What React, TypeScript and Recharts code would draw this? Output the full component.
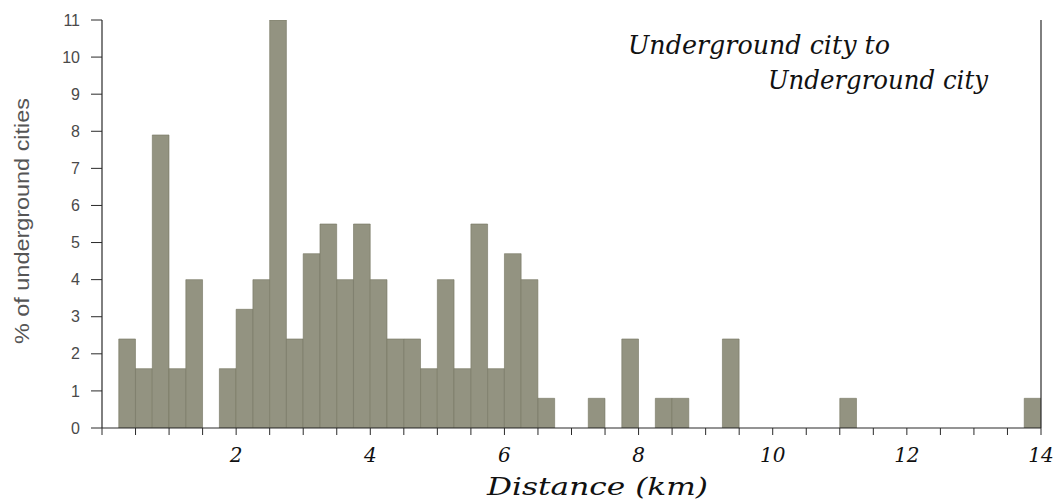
import { Bar, BarChart, ReferenceLine, XAxis, YAxis } from "recharts";

// histogram bins, 0.25 km wide, given by left edge (km)
const binStarts = [
  0.25, 0.5, 0.75, 1.0, 1.25, 1.5, 1.75, 2.0, 2.25, 2.5, 2.75, 3.0, 3.25, 3.5,
  3.75, 4.0, 4.25, 4.5, 4.75, 5.0, 5.25, 5.5, 5.75, 6.0, 6.25, 6.5, 6.75, 7.0,
  7.25, 7.5, 7.75, 8.0, 8.25, 8.5, 8.75, 9.0, 9.25, 9.5, 9.75, 10.0, 10.25,
  10.5, 10.75, 11.0, 11.25, 11.5, 11.75, 12.0, 12.25, 12.5, 12.75, 13.0, 13.25,
  13.5, 13.75,
];
const binWidth = 0.25;

// % of underground cities in each bin
const percent = [
  2.4, 1.6, 7.9, 1.6, 4.0, 0, 1.6, 3.2, 4.0, 11.0, 2.4, 4.7, 5.5, 4.0, 5.5,
  4.0, 2.4, 2.4, 1.6, 4.0, 1.6, 5.5, 1.6, 4.7, 4.0, 0.8, 0, 0, 0.8, 0, 2.4, 0,
  0.8, 0.8, 0, 0, 2.4, 0, 0, 0, 0, 0, 0, 0.8, 0, 0, 0, 0, 0, 0, 0, 0, 0, 0, 0.8,
];

const xTicks = [
  0, 0.5, 1, 1.5, 2, 2.5, 3, 3.5, 4, 4.5, 5, 5.5, 6, 6.5, 7, 7.5, 8, 8.5, 9,
  9.5, 10, 10.5, 11, 11.5, 12, 12.5, 13, 13.5, 14,
];
const xTickLabels = [2, 4, 6, 8, 10, 12, 14];
const yTicks = [0, 1, 2, 3, 4, 5, 6, 7, 8, 9, 10, 11];

const titleLines = ["Underground city to", "Underground city"];
const xTitle = "Distance (km)";
const yTitle = "% of underground cities";

const data = binStarts.map((s, i) => ({ mid: s + binWidth / 2, pct: percent[i] }));

const HAND = "'DejaVu Serif', serif";
const SANS = "'Liberation Sans', Arial, sans-serif";
const AXIS = "#2a2a2a";

function XTitle({ viewBox }: any) {
  const cx = viewBox.x + viewBox.width / 2 + 26;
  return (
    <text
      x={cx}
      y={viewBox.y + viewBox.height - 7}
      textAnchor="middle"
      fontFamily={HAND}
      fontStyle="italic"
      fontSize={25}
      textLength={221}
      lengthAdjust="spacingAndGlyphs"
      fill="#111"
    >
      {xTitle}
    </text>
  );
}

function YTitle({ viewBox }: any) {
  const cx = viewBox.x + 22;
  const cy = viewBox.y + viewBox.height / 2 - 3;
  return (
    <text
      x={cx}
      y={cy}
      transform={`rotate(-90 ${cx} ${cy})`}
      textAnchor="middle"
      dominantBaseline="central"
      fontFamily={SANS}
      fontSize={20}
      textLength={246}
      lengthAdjust="spacingAndGlyphs"
      fill="#555"
    >
      {yTitle}
    </text>
  );
}

export default function App() {
  return (
    <div style={{ position: "absolute", left: 0, top: 0, width: 1054, height: 502, background: "#fff" }}>
      <BarChart
        width={1054}
        height={502}
        data={data}
        margin={{ top: 20, right: 13, bottom: 0, left: 0 }}
        barGap={0}
        barCategoryGap={0}
      >
        <XAxis
          type="number"
          dataKey="mid"
          domain={[0, 14]}
          ticks={xTicks}
          interval={0}
          allowDataOverflow
          height={74}
          tickSize={7}
          tickMargin={13}
          axisLine={{ stroke: AXIS, strokeWidth: 1.2 }}
          tickLine={{ stroke: AXIS }}
          tickFormatter={(v: number) => (xTickLabels.includes(v) ? String(v) : "")}
          tick={{ fill: "#111", fontSize: 20, fontFamily: HAND, fontStyle: "italic" }}
          label={<XTitle />}
        />
        <YAxis
          type="number"
          domain={[0, 11]}
          ticks={yTicks}
          interval={0}
          allowDataOverflow
          width={102}
          tickSize={11}
          tickMargin={11}
          axisLine={{ stroke: AXIS, strokeWidth: 1.2 }}
          tickLine={{ stroke: AXIS }}
          tick={{ fill: "#4a4a4a", fontSize: 16, fontFamily: SANS }}
          label={<YTitle />}
        />
        <ReferenceLine x={14} stroke={AXIS} strokeWidth={1.2} />
        <Bar
          dataKey="pct"
          fill="#939381"
          stroke="#73735f"
          strokeWidth={0.6}
          barSize={16.7}
          isAnimationActive={false}
        />
      </BarChart>
      <svg
        width={1054}
        height={502}
        style={{ position: "absolute", left: 0, top: 0, pointerEvents: "none" }}
      >
        <text x={628} y={54} fontFamily={HAND} fontStyle="italic" fontSize={26} fill="#111" textLength={262} lengthAdjust="spacingAndGlyphs">
          {titleLines[0]}
        </text>
        <text x={768} y={89} fontFamily={HAND} fontStyle="italic" fontSize={26} fill="#111" textLength={220} lengthAdjust="spacingAndGlyphs">
          {titleLines[1]}
        </text>
      </svg>
    </div>
  );
}
